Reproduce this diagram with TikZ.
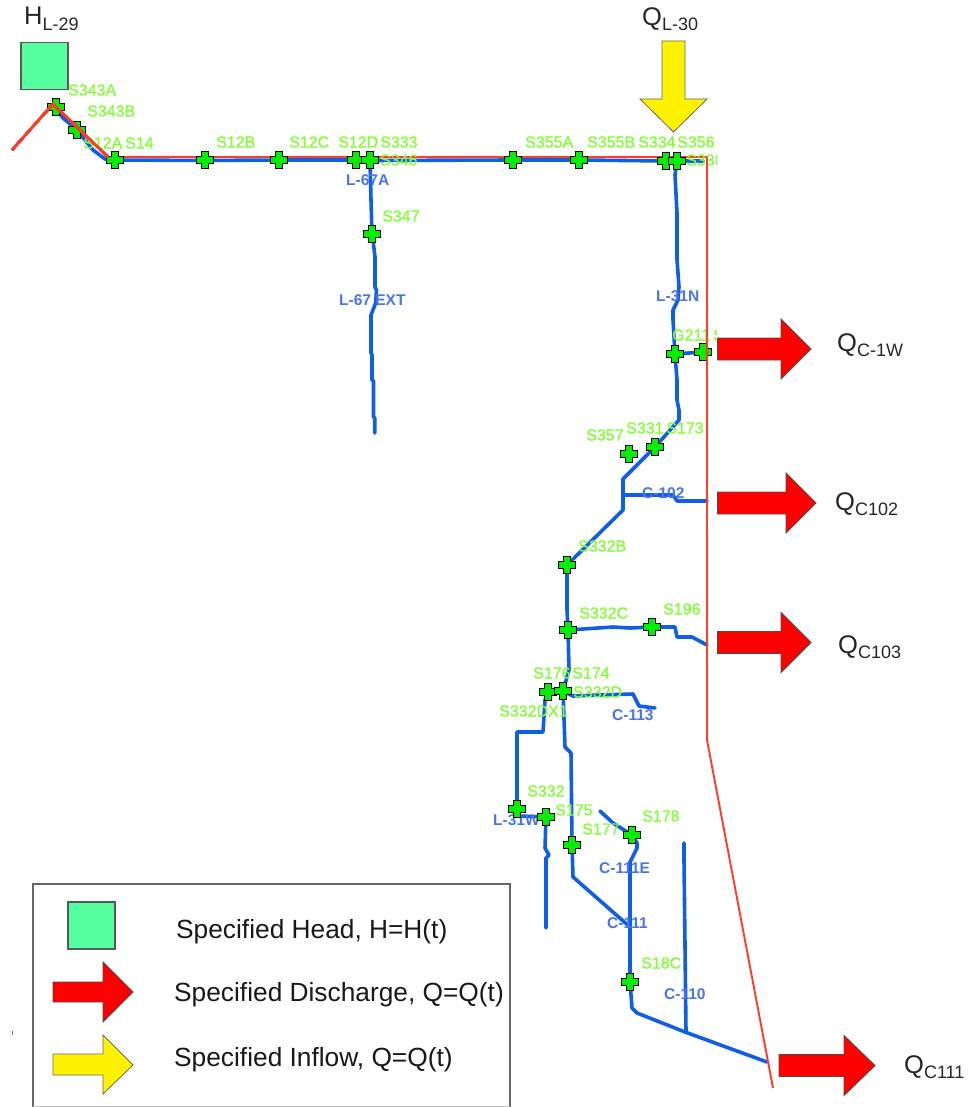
\documentclass[tikz,border=0pt]{standalone}
\usepackage{fontspec}
\setmainfont{Liberation Sans}
\newfontfamily\stnfont[FakeBold=0.35]{Liberation Sans}
\usetikzlibrary{calc}
\definecolor{lineblue}{HTML}{0F5FE6}
\definecolor{labelblue}{HTML}{4A74E8}
\definecolor{labelgreen}{HTML}{80FF30}
\definecolor{canalred}{HTML}{FF3B2A}
\definecolor{headgreen}{HTML}{55FFA0}
\definecolor{crossgreen}{HTML}{00F000}
\tikzset{
  x=1pt,y=-1pt,
  canal/.style={draw=lineblue,line width=3.6pt,line join=round,line cap=round},
  levee/.style={draw=canalred,line width=2.2pt,line join=round},
  stn/.style={font=\stnfont\fontsize{16}{17}\selectfont,text=labelgreen,inner sep=0pt,anchor=west},
  canlabel/.style={font=\bfseries\fontsize{15.5}{17}\selectfont,text=labelblue,inner sep=0pt,anchor=west},
  bigq/.style={font=\fontsize{25.5}{27}\selectfont,text=black!85,inner sep=0pt,anchor=west},
  legendtext/.style={font=\fontsize{26.3}{28}\selectfont,text=black!90,inner sep=0pt,anchor=west},
  headbox/.style={draw=black!65,line width=1.2pt,fill=headgreen},
  discharge/.style={draw=black!70,line width=0.9pt,fill=red},
  inflow/.style={draw=black!60,line width=0.8pt,fill=yellow},
  crossmark/.style={draw=black,line width=1pt,fill=crossgreen,line join=miter},
}
\newcommand{\plusmark}[1]{%
  \path[crossmark] ($(#1)+(-3.5,-8.5)$) -- ++(7,0) -- ++(0,5) -- ++(5,0) -- ++(0,7) -- ++(-5,0) -- ++(0,5) -- ++(-7,0) -- ++(0,-5) -- ++(-5,0) -- ++(0,-7) -- ++(5,0) -- cycle;}
\newcommand{\rightarrowshape}[5]{% x0, xneck, xtip, ycentre, style
  \path[#5] (#1,#4-11) -- (#2,#4-11) -- (#2,#4-30) -- (#3,#4) -- (#2,#4+30) -- (#2,#4+11) -- (#1,#4+11) -- cycle;}
\newcommand{\Qsub}[2]{#1\raisebox{-0.22em}{\fontsize{18}{19}\selectfont #2}}
\begin{document}
\begin{tikzpicture}
\useasboundingbox (0,0) rectangle (971,1107);
\fill[white] (0,0) rectangle (971,1107);
% station positions
\foreach \n/\x/\y in {S343A/55.5/107.5,S343B/77/130,S12A/115/160,S12B/205/160.5,S12C/279/160,S12D/356/160,S333/370/160.5,S347/372/234,S355A/513/160,S355B/579/160,S334/666/161,S356/677/161,G211/675/354,Gtwo/703/352,S357/629/454,S331/655/447,S332B/567/565,S332C/568/630,S196/652/627,S174/563/691,S176/548/692,S332/517/809,S175/546/817,S177/572/845,S178/632/835,S18C/630/982}
  \coordinate (\n) at (\x,\y);
\coordinate (LeveeA) at (12,150);
\coordinate (LeveeP) at (53,104);
\coordinate (LeveeQ) at (108,157);
\coordinate (LeveeB) at (707,157);
\coordinate (LeveeC) at (707,740);
\coordinate (LeveeD) at (773,1088);
% levee, top reach (under the marks)
\draw[levee] (LeveeQ) -- (LeveeB);
\draw[canalred,line width=1pt] (12,1031) -- (12,1035);
% canals
\draw[canal] (S343A) -- (63,118) -- (S343B) -- (93,150) -- (105,159) -- (S12A) -- (S12B) -- (S12C) -- (S12D) -- (S333) -- (S355A) -- (S355B) -- (S334) -- (S356) -- (703,161);
\draw[canal] (S333) -- (371,200) -- (S347) -- (373,240) -- (375,257) -- (375,287) -- (376.5,290) -- (375.7,303) -- (371,315) -- (371,353) -- (372,355) -- (372,380) -- (373.5,381) -- (373.5,417) -- (374.7,418) -- (374.7,433);
\draw[canal] (S356) -- (675,175) -- (677,213) -- (677,260) -- (679,287) -- (678,300) -- (673,310) -- (673,320) -- (G211) -- (677,380) -- (677,400) -- (679,410) -- (679,420) -- (S331) -- (623,479) -- (623,510) -- (S332B) -- (567,610) -- (S332C) -- (569,670) -- (S174);
\draw[canal] (G211) -- (Gtwo);
\draw[canal] (623,495) -- (673,495) -- (677,501) -- (707,501);
\draw[canal] (S332C) -- (613,627) -- (630,628) -- (S196) -- (675,627) -- (677,637) -- (692,637) -- (707,645);
\draw[canal] (S174) -- (573,696) -- (600,695) -- (633,694) -- (639,706) -- (655,708);
\draw[canal] (S176) -- (545,700) -- (543,732) -- (517,732) -- (517,792) -- (S332) -- (517,816) -- (S175) -- (545,848) -- (549,855) -- (546,858) -- (546,928);
\draw[canal] (S174) -- (565,747) -- (571,753) -- (S177) -- (573,877) -- (630,927);
\draw[canal] (600,811) -- (613,823) -- (S178) -- (637,843) -- (637,848) -- (630,862) -- (S18C) -- (632,1008) -- (637,1013) -- (685,1032) -- (767,1062);
\draw[canal] (684,843) -- (684,860) -- (686,1032);
% labels (drawn under the marks, over the lines)
\begin{scope}
\clip (0,0) rectangle (717,1107);
\foreach \t/\x/\y in {S343A/68/90,S343B/87/111,S12A/83/143,S14/125/143,S12B/216/142,S12C/289/142,S12D/338/142,S333/380/142,S346/380/160,S347/382/216,S355A/525/142,S355B/587/142,S334/638/142,S356/677/142,S338/686/160,G211/672/335,S/713/335,S357/586/435,S331/626/428,S173/666/428,S332B/578/546,S332C/579/613,S196/663/609,S176/533/673,S174/572/673,S332D/573/692,S332DX1/499/711,S332/527/791,S175/555/810,S177/582/829,S178/642/816,S18C/641/963}
  \node[stn] (lab\t) at (\x,\y) {\t};
\end{scope}
\foreach \t/\x/\y in {L-67A/346/180,L-67 EXT/339/300,L-31N/656/296,C-102/642/493,C-113/612/715,L-31W/493/820,C-111E/599/868,C-111/607/923,C-110/664/994}
  \node[canlabel] (lab\t) at (\x,\y) {\t};
% stations
\foreach \n in {S343A,S343B,S12A,S12B,S12C,S12D,S333,S347,S355A,S355B,S334,S356,G211,Gtwo,S357,S331,S332B,S332C,S196,S176,S174,S332,S175,S177,S178,S18C}
  \plusmark{\n}
% levee reaches that pass over the marks
\draw[levee] (LeveeA) -- (LeveeP) -- (LeveeQ);
\draw[levee] (LeveeB) -- (LeveeC);
\draw[levee,line width=1.9pt] (LeveeC) -- (LeveeD);
% boundary condition symbols
\node[headbox,minimum size=47pt,inner sep=0pt] (head) at (44.5,66) {};
\path[inflow] (662,41) -- (685,41) -- (685,99) -- (707,99) -- (673.5,132) -- (640,99) -- (662,99) -- cycle;
\rightarrowshape{717.5}{781}{811}{349}{discharge}
\rightarrowshape{717.5}{786}{816}{503}{discharge}
\rightarrowshape{717.5}{781}{811}{642.5}{discharge}
\rightarrowshape{779}{844}{875}{1065.5}{discharge}
\node[bigq] (qa) at (24,19) {\Qsub{H}{L-29}};
\node[bigq] (qb) at (642,19) {\Qsub{Q}{L-30}};
\node[bigq] (qc) at (837,345) {\Qsub{Q}{C-1W}};
\node[bigq] (qd) at (835,504) {\Qsub{Q}{C102}};
\node[bigq] (qe) at (838,647) {\Qsub{Q}{C103}};
\node[bigq] (qf) at (904,1067) {\Qsub{Q}{C111}};
% legend
\path[draw=black!60,line width=1.2pt,fill=white] (33,1107) -- (33,884) -- (510,884) -- (510,1107);
\draw[black!25,line width=0.8pt] (33,1106.5) -- (510,1106.5);
\node[headbox,minimum size=47pt,inner sep=0pt] (leghead) at (91.5,925.5) {};
\path[discharge] (53,982) -- (103,982) -- (103,962) -- (133,992) -- (103,1022) -- (103,1002) -- (53,1002) -- cycle;
\path[inflow] (53,1054) -- (103,1054) -- (103,1035) -- (133,1065) -- (103,1094) -- (103,1075) -- (53,1075) -- cycle;
\node[legendtext] (lega) at (176,932) {Specified Head, H=H(t)};
\node[legendtext] (legb) at (174,995) {Specified Discharge, Q=Q(t)};
\node[legendtext] (legc) at (174,1060) {Specified Inflow, Q=Q(t)};
\end{tikzpicture}
\end{document}
